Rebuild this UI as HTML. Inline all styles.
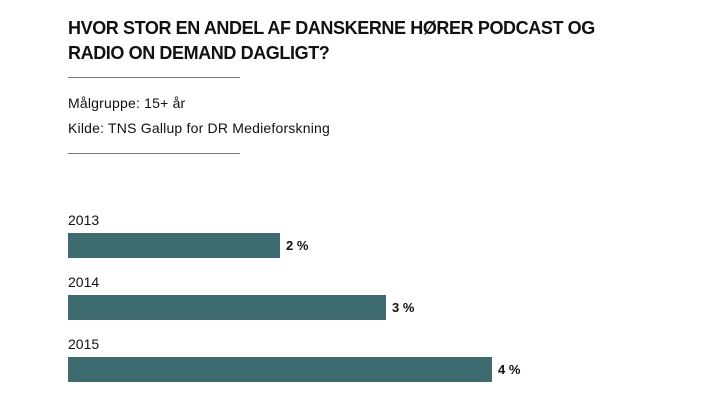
<!DOCTYPE html>
<html><head><style>
body{margin:0;width:720px;height:405px;background:#fff;font-family:"Liberation Sans",sans-serif;color:#111;position:relative;overflow:hidden}
.a{position:absolute;white-space:nowrap}
.t{font-weight:bold;font-size:18px;letter-spacing:-0.4px;line-height:25px;left:68px;top:16px}
.hr{position:absolute;left:68px;width:172px;height:1px;background:#777}
.s{font-size:14px;left:68px;letter-spacing:0.2px}
.y{font-size:14px;left:68px}
.b{position:absolute;left:68px;height:25px;background:#3d6b70}
.v{font-size:13px;font-weight:bold}
</style></head><body>
<div class="a t">HVOR STOR EN ANDEL AF DANSKERNE HØRER PODCAST OG<br>RADIO ON DEMAND DAGLIGT?</div>
<div class="hr" style="top:77px"></div>
<div class="a s" style="top:95px">Målgruppe: 15+ år</div>
<div class="a s" style="top:120px">Kilde: TNS Gallup for DR Medieforskning</div>
<div class="hr" style="top:153px"></div>
<div class="a y" style="top:212px">2013</div>
<div class="b" style="top:233px;width:212px"></div>
<div class="a v" style="top:238px;left:286px">2 %</div>
<div class="a y" style="top:274px">2014</div>
<div class="b" style="top:295px;width:318px"></div>
<div class="a v" style="top:300px;left:392px">3 %</div>
<div class="a y" style="top:336px">2015</div>
<div class="b" style="top:357px;width:424px"></div>
<div class="a v" style="top:362px;left:498px">4 %</div>
</body></html>
